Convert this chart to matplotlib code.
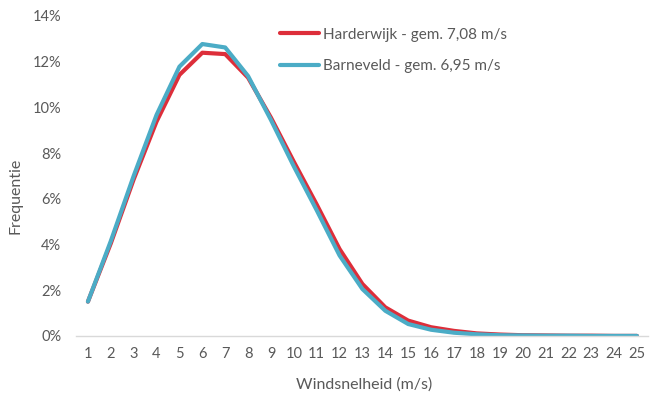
import matplotlib
matplotlib.use("Agg")
import matplotlib.pyplot as plt
from matplotlib.ticker import FuncFormatter

# -----------------------------
# Data
# -----------------------------
wind_speed = list(range(1, 26))

harderwijk = [1.50, 4.05, 6.85, 9.38, 11.42, 12.39, 12.33, 11.30, 9.55, 7.62,
              5.75, 3.80, 2.27, 1.25, 0.67, 0.38, 0.22, 0.11, 0.06, 0.03,
              0.02, 0.01, 0.01, 0.00, 0.00]
barneveld = [1.50, 4.15, 7.00, 9.67, 11.78, 12.77, 12.62, 11.37, 9.45, 7.42,
             5.50, 3.52, 2.05, 1.10, 0.52, 0.27, 0.14, 0.07, 0.03, 0.02,
             0.01, 0.01, 0.00, 0.00, 0.00]

labels = ["Harderwijk - gem. 7,08 m/s", "Barneveld - gem. 6,95 m/s"]
colors = ["#DD2E3A", "#4BACC6"]

TEXT = "#595959"
plt.rcParams["font.family"] = ["Lato", "DejaVu Sans"]

# -----------------------------
# Figure
# -----------------------------
fig = plt.figure(figsize=(6.51, 3.98), dpi=100)
ax = fig.add_axes([0.1175, 0.156, 0.8785, 0.804])

for vals, lab, col in zip([harderwijk, barneveld], labels, colors):
    ax.plot(wind_speed, [v / 100 for v in vals], color=col, lw=3.0,
            solid_joinstyle="round", solid_capstyle="round", label=lab)

ax.set_xlim(0.5, 25.5)
ax.set_ylim(0, 0.14)
ax.set_xticks(wind_speed)
ax.set_yticks([i * 0.02 for i in range(8)])
ax.yaxis.set_major_formatter(FuncFormatter(lambda v, _: f"{v * 100:.0f}%"))

for s in ["top", "right", "left"]:
    ax.spines[s].set_visible(False)
ax.spines["bottom"].set_color("#D9D9D9")
ax.spines["bottom"].set_linewidth(1.0)

ax.tick_params(axis="both", length=0, labelsize=10.5, colors=TEXT)
ax.tick_params(axis="y", pad=11)
ax.tick_params(axis="x", pad=8)

fig.text(16 / 651, 1 - 196 / 398, "Frequentie", rotation=90, ha="center",
         va="center", fontsize=11.5, color=TEXT)
fig.text(364 / 651, 1 - 385 / 398, "Windsnelheid (m/s)", ha="center",
         va="center", fontsize=11.5, color=TEXT)

leg = ax.legend(loc="upper left", bbox_to_anchor=(272 / 651, 1 - 20 / 398),
                bbox_transform=fig.transFigure, frameon=False, fontsize=11,
                handlelength=2.6, handletextpad=0.25, labelspacing=1.15,
                borderpad=0)
for t in leg.get_texts():
    t.set_color(TEXT)

fig.savefig("out.png", dpi=100)
